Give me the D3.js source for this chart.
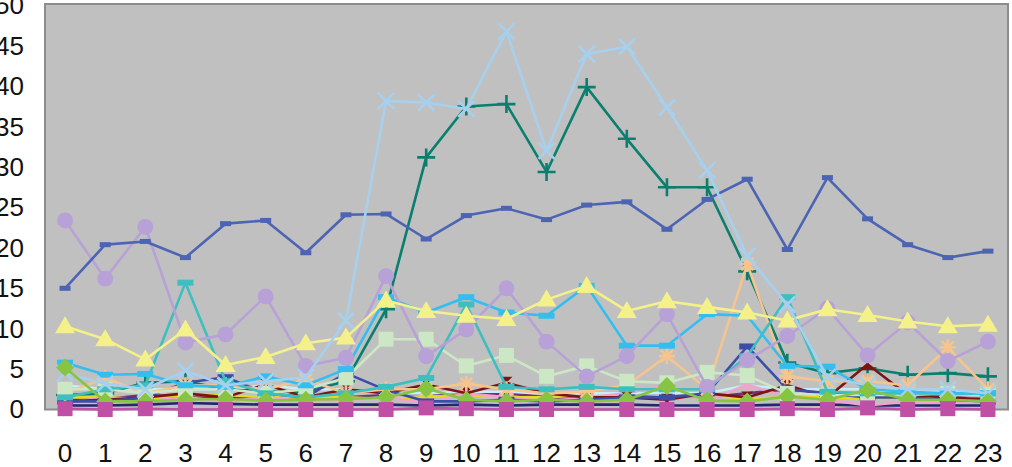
<!DOCTYPE html>
<html><head><meta charset="utf-8">
<script src="https://cdn.jsdelivr.net/npm/d3@7"></script>
<style>
html,body{margin:0;padding:0;background:#fff;}
svg{display:block;}
text{font-family:"Liberation Sans",Arial,sans-serif;}
</style></head>
<body>
<svg id="chart" width="1012" height="467"></svg>
<script>
const categories = d3.range(0, 24).map(String);
const yTicks = [0, 5, 10, 15, 20, 25, 30, 35, 40, 45, 50];

const darknavy  = [0.5,0.5,0.6,0.8,0.7,0.6,0.6,0.6,0.6,0.5,0.6,0.5,0.6,0.6,0.6,0.5,0.5,0.5,0.6,0.6,0.5,0.5,0.5,0.5];
const purple    = [1.2,1.3,1.8,1.5,1.5,1.3,1.5,1.5,1.8,2,1.8,2,1.5,1.5,1.8,2,1.5,2,2.5,2,1.5,1.5,1.5,1.3];
const gold      = [1.5,1.5,1.3,1.8,1.8,1.5,1.5,1.5,1.3,1.5,1.8,1.5,1.5,1.8,1.5,1.5,1.8,1.3,1.5,1.5,1.3,1.5,1.5,1.2];
const palecyan  = [3,2.5,2.5,2.5,2.5,3,2.5,2.5,2,2,2.2,2.2,2,2,2,2,2,3,2.5,2.5,2.5,2.2,2.2,2];
const pink      = [0.8,1.5,1,1.5,1,1.5,1,1.2,1.5,0.8,2,1.5,1,1.5,2,3,1,3.1,1.5,1.2,0.5,1,0.8,1.2];
const maroon    = [1,1.2,1.5,2,1.5,3.1,1.5,2.5,2,3.1,2,3.3,2,1.5,1.5,1.2,2,1.5,3,1.5,5.6,1.8,1.5,1.2];
const navy      = [1,1,1.5,3.3,4,2,1.5,4.5,2.4,1,1,1.2,1,1.2,1.5,1.5,2,7.8,2.5,2,1.5,1.5,1.2,1];
const peach     = [2,3.9,2,3,3,2.5,3.7,2,2.5,2.5,3.2,2.5,2,2.2,3,6.6,2.5,18,4.1,3.5,3.5,3,7.7,2.5];
const lightgreen= [2.5,2.5,2,2.5,2.5,2,2.5,3.9,8.7,8.7,5.4,6.7,4.1,5.4,3.5,3.3,4.6,4.2,2,1.8,1.8,1.8,2,1.8];
const turquoise = [1.5,2.5,3,15.7,3.5,2,1.5,2,2.8,3.9,13,2.8,2.5,2.8,2.5,2.5,2.5,6.6,13.9,2.2,2,2,2,2];
const skyblue   = [5.8,4.3,4.4,3,2.8,4.1,3,5,13.9,12,13.9,12,11.6,15.3,7.9,7.9,11.8,11.6,5.4,5.3,2.5,2.2,2,2];
const lavender  = [23.4,16.2,22.6,8.3,9.3,14,5.4,6.4,16.5,6.6,9.9,15,8.4,4.1,6.6,11.8,2.8,6.1,9.1,12.5,6.7,10.8,6,8.4];
const yellow    = [10.3,8.7,6.2,9.9,5.5,6.5,8.2,8.9,13.5,12.2,11.6,11.2,13.6,15.3,12.2,13.4,12.7,12,11,12.4,11.7,10.9,10.3,10.5];
const blue      = [15,20.4,20.8,18.8,23,23.4,19.4,24.1,24.2,21.1,24,24.9,23.5,25.3,25.7,22.3,26,28.5,19.8,28.7,23.6,20.4,18.8,19.6];
const teal      = [1.8,2,3.3,3.5,2.5,2.2,2.2,3.5,12.4,31.2,37.5,37.8,29.4,39.9,33.5,27.5,27.5,17.1,5.8,4.5,5.1,4.3,4.5,4.1];
const lightblue = [4.5,3.2,2.5,4.8,3,3.5,4,11,38.2,38,37.2,46.8,32,44,44.9,37.4,29.6,19,13,4,3,2.5,2.5,2];
const green     = [5.2,1,1,1.2,1.3,1.1,1.2,1.3,1.5,2.6,1.2,1,1.2,1,1.2,2.9,1.1,1,1.6,1.2,2.4,1.2,1.2,1];
const magenta   = [0.1,0,0.1,0,0,0,0,0,0,0.2,0.1,0,0,0,0,0,0,0,0.1,0,0.2,0,0.1,0];

const series = [
  {values: darknavy,   color: "#252570", marker: "none"},
  {values: purple,     color: "#74307F", marker: "none"},
  {values: gold,       color: "#E4DA1E", marker: "none"},
  {values: palecyan,   color: "#C6EEF6", marker: "none"},
  {values: teal,       color: "#0A7F6E", marker: "plus"},
  {values: pink,       color: "#F2A3CB", marker: "asterisk"},
  {values: maroon,     color: "#7D1414", marker: "bowtie"},
  {values: navy,       color: "#3B4DA8", marker: "dash"},
  {values: peach,      color: "#F7C48E", marker: "star"},
  {values: lightgreen, color: "#CBE7C4", marker: "square"},
  {values: turquoise,  color: "#3EBFBF", marker: "dash"},
  {values: skyblue,    color: "#34BEEF", marker: "dash"},
  {values: lavender,   color: "#B7A1D7", marker: "circle"},
  {values: yellow,     color: "#F4F08A", marker: "triangle"},
  {values: blue,       color: "#4C64B3", marker: "dashsmall"},
  {values: lightblue,  color: "#A7D0EE", marker: "x"},
  {values: green,      color: "#86C441", marker: "diamond"},
  {values: magenta,    color: "#C04FA6", marker: "square"}
];

const plot = {left: 45, right: 1008, top: 4, bottom: 409.5};
const svg = d3.select("#chart");

const xb = d3.scaleBand().domain(categories).range([plot.left, plot.right]).paddingInner(0).paddingOuter(0);
const x = c => xb(c) + xb.bandwidth() / 2;
const y = d3.scaleLinear().domain([0, 50]).range([409.5, 5.5]);

svg.append("rect")
  .attr("x", plot.left).attr("y", plot.top)
  .attr("width", plot.right - plot.left).attr("height", plot.bottom - plot.top)
  .attr("fill", "#C0C0C0").attr("stroke", "#8C8C8C").attr("stroke-width", 2);

const yAxis = svg.append("g").attr("transform", `translate(${plot.left},0)`)
  .call(d3.axisLeft(y).tickValues(yTicks).tickSize(0).tickPadding(21).tickFormat(d3.format("d")));
yAxis.select(".domain").remove();
yAxis.selectAll("text").attr("font-size", 26).attr("fill", "#111").attr("font-family", "Liberation Sans, Arial, sans-serif");

const xAxis = svg.append("g").attr("transform", `translate(0,${plot.bottom})`)
  .call(d3.axisBottom(xb).tickSize(0).tickPadding(34));
xAxis.select(".domain").remove();
xAxis.selectAll("text").attr("font-size", 26).attr("fill", "#111").attr("font-family", "Liberation Sans, Arial, sans-serif");

const line = d3.line().x((d, i) => x(categories[i])).y(d => y(d));

function markerPath(type) {
  switch (type) {
    case "circle": return d3.symbol(d3.symbolCircle, 200)();
    case "triangle": return "M0,-10L10,7L-10,7Z";
    case "diamond": return "M0,-9L9,0L0,9L-9,0Z";
    case "square": return "M-7.5,-7.5H7.5V7.5H-7.5Z";
    case "dash": return "M-8,-3H8V3H-8Z";
    case "dashsmall": return "M-5.5,-2.5H5.5V2.5H-5.5Z";
    case "bowtie": return "M-6,-6L6,-6L0,0L6,6L-6,6L0,0Z";
    default: return null;
  }
}
function strokeMarker(type) {
  switch (type) {
    case "plus": return "M-9,0H9M0,-9V9";
    case "x": return "M-8,-8L8,8M-8,8L8,-8";
    case "star": return "M-8,0H8M0,-8V8M-6,-6L6,6M-6,6L6,-6";
    case "asterisk": return "M0,-8V8M-7,-4L7,4M-7,4L7,-4";
    default: return null;
  }
}

const g = svg.append("g");
series.forEach(s => {
  const sg = g.append("g");
  sg.append("path").datum(s.values)
    .attr("d", line).attr("fill", "none")
    .attr("stroke", s.color).attr("stroke-width", 2.6).attr("stroke-linejoin", "round");
  const fp = markerPath(s.marker);
  const sp = strokeMarker(s.marker);
  if (fp) {
    sg.selectAll("path.m").data(s.values).enter().append("path").attr("class", "m")
      .attr("transform", (d, i) => `translate(${x(categories[i])},${y(d)})`)
      .attr("d", fp).attr("fill", s.color);
  } else if (sp) {
    sg.selectAll("path.m").data(s.values).enter().append("path").attr("class", "m")
      .attr("transform", (d, i) => `translate(${x(categories[i])},${y(d)})`)
      .attr("d", sp).attr("fill", "none").attr("stroke", s.color).attr("stroke-width", 2.6);
  }
});
</script>
</body></html>
